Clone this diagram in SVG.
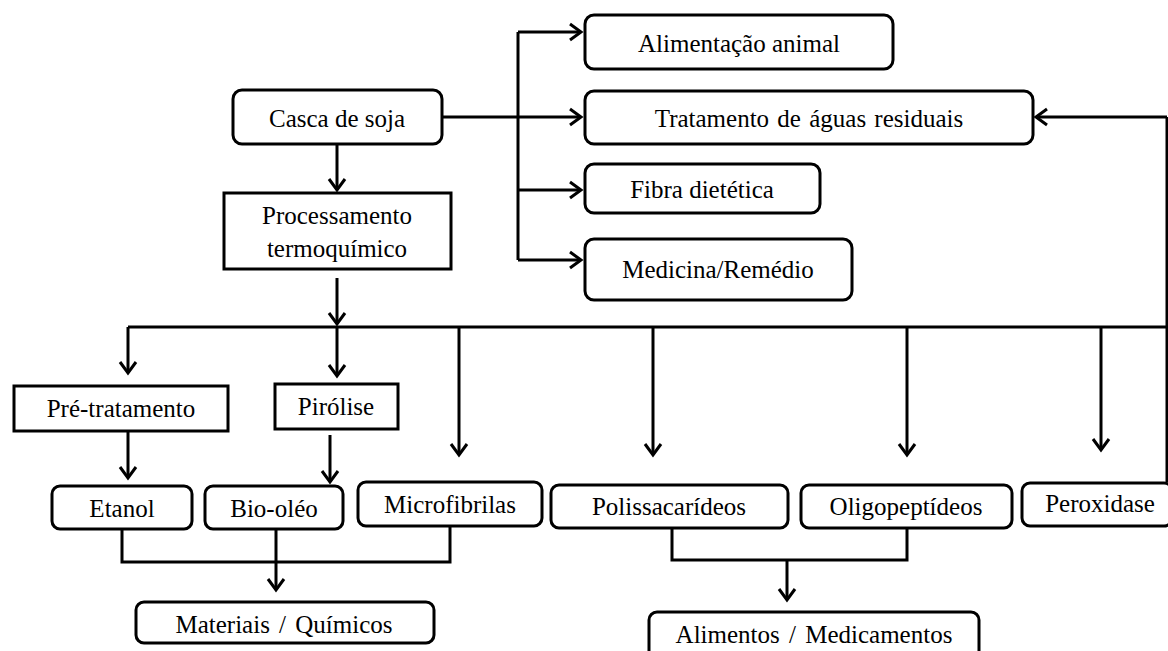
<svg xmlns="http://www.w3.org/2000/svg" width="1168" height="651" viewBox="0 0 1168 651">
<style>
.box{fill:#fff;stroke:#000;stroke-width:3}
.t{font-family:"Liberation Serif","Times New Roman",serif;font-size:25px;fill:#000;text-anchor:middle}
.ln{fill:none;stroke:#000;stroke-width:3}
.ar{fill:none;stroke:#000;stroke-width:3;marker-end:url(#ah)}
</style>
<defs>
<marker id="ah" markerUnits="userSpaceOnUse" markerWidth="20" markerHeight="20" viewBox="-14 -10 16 20" refX="0" refY="0" orient="auto">
<path d="M-11,-8 L0,0 L-11,8" fill="none" stroke="#000" stroke-width="3"/>
</marker>
</defs>
<rect width="1168" height="651" fill="#fff"/>
<g id="connectors">
<path class="ar" d="M337,144 V190"/>
<path class="ar" d="M337,278 V324"/>
<path class="ln" d="M442,117 H518"/>
<path class="ln" d="M518,32 V260"/>
<path class="ar" d="M518,32 H581"/>
<path class="ar" d="M518,117 H581"/>
<path class="ar" d="M518,190 H581"/>
<path class="ar" d="M518,260 H581"/>
<path class="ln" d="M128,327 H1167"/>
<path class="ln" d="M1167,482 V117"/>
<path class="ar" d="M1167,117 H1036"/>
<path class="ar" d="M128,327 V373"/>
<path class="ar" d="M337,327 V376"/>
<path class="ar" d="M459,327 V455"/>
<path class="ar" d="M653,327 V455"/>
<path class="ar" d="M907,327 V455"/>
<path class="ar" d="M1101,327 V450"/>
<path class="ar" d="M128,431 V478"/>
<path class="ar" d="M330,435 V482"/>
<path class="ln" d="M122,529 V562 H450 V526"/>
<path class="ar" d="M276,529 V590"/>
<path class="ln" d="M672,528 V560 H907 V528"/>
<path class="ar" d="M787,560 V600"/>
</g>
<g id="casca"><rect class="box" x="233" y="90" width="209" height="54" rx="9"/><text class="t" x="337" y="127">Casca de soja</text></g>
<g id="processamento"><rect class="box" x="224" y="193" width="227" height="76"/><text class="t" x="337" y="224">Processamento</text><text class="t" x="337" y="257">termoquímico</text></g>
<g id="alimentacao"><rect class="box" x="585" y="15" width="308" height="54" rx="9"/><text class="t" x="739" y="52">Alimentação animal</text></g>
<g id="tratamento"><rect class="box" x="585" y="91" width="448" height="53" rx="9"/><text class="t" x="809" y="127" word-spacing="2">Tratamento de águas residuais</text></g>
<g id="fibra"><rect class="box" x="585" y="164" width="235" height="49" rx="9"/><text class="t" x="702" y="198">Fibra dietética</text></g>
<g id="medicina"><rect class="box" x="585" y="239" width="267" height="61" rx="9"/><text class="t" x="718" y="278">Medicina/Remédio</text></g>
<g id="pretratamento"><rect class="box" x="14" y="386" width="214" height="45"/><text class="t" x="121" y="417">Pré-tratamento</text></g>
<g id="pirolise"><rect class="box" x="275" y="384" width="123" height="45"/><text class="t" x="336" y="415">Pirólise</text></g>
<g id="etanol"><rect class="box" x="52" y="486" width="140" height="43" rx="8"/><text class="t" x="122" y="517">Etanol</text></g>
<g id="biooleo"><rect class="box" x="205" y="486" width="138" height="43" rx="8"/><text class="t" x="274" y="517">Bio-oléo</text></g>
<g id="microfibrilas"><rect class="box" x="358" y="482" width="184" height="44" rx="8"/><text class="t" x="450" y="513">Microfibrilas</text></g>
<g id="polissacarideos"><rect class="box" x="551" y="485" width="237" height="43" rx="8"/><text class="t" x="669" y="515">Polissacarídeos</text></g>
<g id="oligopeptideos"><rect class="box" x="801" y="485" width="211" height="43" rx="8"/><text class="t" x="906" y="515">Oligopeptídeos</text></g>
<g id="peroxidase"><rect class="box" x="1022" y="483" width="150" height="43" rx="8"/><text class="t" x="1100" y="512">Peroxidase</text></g>
<g id="materiais"><rect class="box" x="136" y="602" width="298" height="41" rx="8"/><text class="t" x="284" y="633" word-spacing="3">Materiais / Químicos</text></g>
<g id="alimentos"><rect class="box" x="649" y="612" width="330" height="50" rx="8"/><text class="t" x="814" y="643" word-spacing="3">Alimentos / Medicamentos</text></g>
</svg>
